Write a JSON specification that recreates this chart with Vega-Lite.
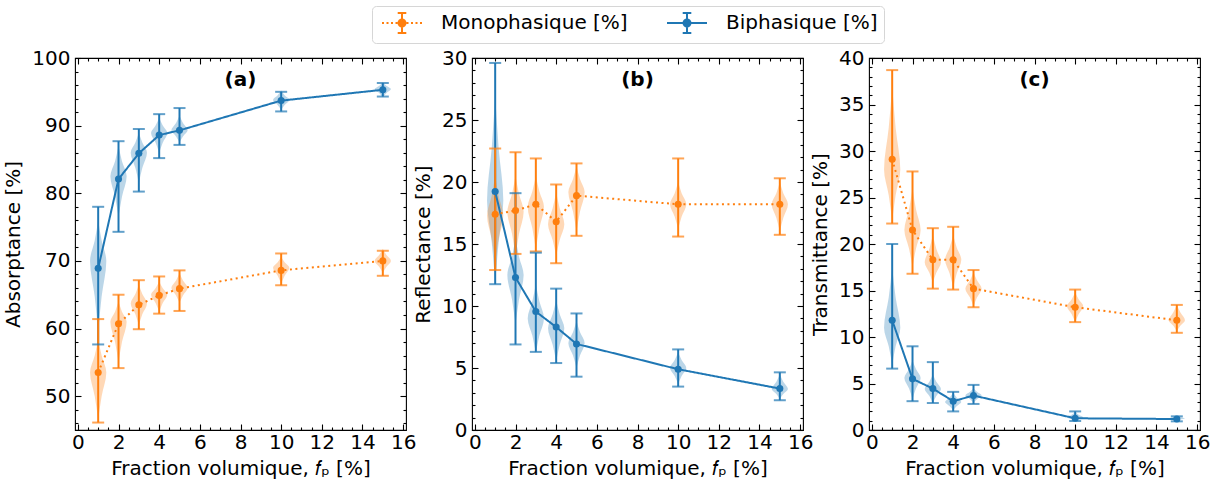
{
"$schema":"https://vega.github.io/schema/vega-lite/v6.json",
"padding":{"left":3,"top":5,"right":5,"bottom":0},
"background":"white",
"config":{"font":"DejaVu Sans","view":{"stroke":"#000","strokeWidth":1.1},
"axis":{"labelFont":"DejaVu Sans","labelFontSize":20,"labelColor":"#000","titleFont":"DejaVu Sans","titleFontSize":20,"titleFontWeight":"normal","titleColor":"#000","tickColor":"#000","tickWidth":1.1,"grid":false,"domain":false,"labelFlush":false,"labelOverlap":false}},
"datasets":{
"pts":[
{"p":"a","s":"B","x":1,"y":68.9,"lo":57.65,"hi":78.0},{"p":"a","s":"B","x":2,"y":82.1,"lo":74.3,"hi":87.7},{"p":"a","s":"B","x":3,"y":85.9,"lo":80.25,"hi":89.5},{"p":"a","s":"B","x":4,"y":88.6,"lo":85.2,"hi":91.7},{"p":"a","s":"B","x":5,"y":89.3,"lo":87.15,"hi":92.6},{"p":"a","s":"B","x":10,"y":93.7,"lo":92.1,"hi":95.0},{"p":"a","s":"B","x":15,"y":95.3,"lo":94.3,"hi":96.3},
{"p":"a","s":"M","x":1,"y":53.5,"lo":46.1,"hi":61.4},{"p":"a","s":"M","x":2,"y":60.7,"lo":54.15,"hi":65.0},{"p":"a","s":"M","x":3,"y":63.5,"lo":59.9,"hi":67.15},{"p":"a","s":"M","x":4,"y":64.9,"lo":62.2,"hi":67.7},{"p":"a","s":"M","x":5,"y":65.9,"lo":62.6,"hi":68.6},{"p":"a","s":"M","x":10,"y":68.6,"lo":66.4,"hi":71.1},{"p":"a","s":"M","x":15,"y":70.0,"lo":67.8,"hi":71.5},
{"p":"b","s":"B","x":1,"y":19.24,"lo":11.76,"hi":29.6},{"p":"b","s":"B","x":2,"y":12.3,"lo":6.9,"hi":19.1},{"p":"b","s":"B","x":3,"y":9.55,"lo":6.3,"hi":14.3},{"p":"b","s":"B","x":4,"y":8.3,"lo":5.4,"hi":11.4},{"p":"b","s":"B","x":5,"y":6.94,"lo":4.3,"hi":9.4},{"p":"b","s":"B","x":10,"y":4.9,"lo":3.5,"hi":6.5},{"p":"b","s":"B","x":15,"y":3.34,"lo":2.4,"hi":4.65},
{"p":"b","s":"M","x":1,"y":17.4,"lo":12.9,"hi":22.7},{"p":"b","s":"M","x":2,"y":17.7,"lo":14.2,"hi":22.4},{"p":"b","s":"M","x":3,"y":18.2,"lo":14.4,"hi":21.9},{"p":"b","s":"M","x":4,"y":16.8,"lo":13.45,"hi":19.8},{"p":"b","s":"M","x":5,"y":18.9,"lo":15.66,"hi":21.5},{"p":"b","s":"M","x":10,"y":18.2,"lo":15.6,"hi":21.9},{"p":"b","s":"M","x":15,"y":18.2,"lo":15.74,"hi":20.3},
{"p":"c","s":"B","x":1,"y":11.8,"lo":6.6,"hi":20.0},{"p":"c","s":"B","x":2,"y":5.5,"lo":3.1,"hi":9.0},{"p":"c","s":"B","x":3,"y":4.45,"lo":2.9,"hi":7.3},{"p":"c","s":"B","x":4,"y":3.1,"lo":2.0,"hi":4.1},{"p":"c","s":"B","x":5,"y":3.7,"lo":2.8,"hi":4.85},{"p":"c","s":"B","x":10,"y":1.26,"lo":0.97,"hi":2.0},{"p":"c","s":"B","x":15,"y":1.18,"lo":0.93,"hi":1.47},
{"p":"c","s":"M","x":1,"y":29.1,"lo":22.2,"hi":38.7},{"p":"c","s":"M","x":2,"y":21.5,"lo":16.8,"hi":27.8},{"p":"c","s":"M","x":3,"y":18.3,"lo":15.2,"hi":21.7},{"p":"c","s":"M","x":4,"y":18.3,"lo":15.1,"hi":21.85},{"p":"c","s":"M","x":5,"y":15.2,"lo":13.2,"hi":17.2},{"p":"c","s":"M","x":10,"y":13.2,"lo":11.6,"hi":15.1},{"p":"c","s":"M","x":15,"y":11.8,"lo":10.45,"hi":13.45}
],
"vio":[
{"p":"a","s":"B","x":1,"y":59.5,"l":1,"r":1},{"p":"a","s":"B","x":1,"y":64.75,"l":0.83,"r":1.17},{"p":"a","s":"B","x":1,"y":70,"l":0.6,"r":1.4},{"p":"a","s":"B","x":1,"y":73,"l":0.83,"r":1.17},{"p":"a","s":"B","x":1,"y":76,"l":1,"r":1},
{"p":"a","s":"B","x":2,"y":76.5,"l":2,"r":2},{"p":"a","s":"B","x":2,"y":79.5,"l":1.83,"r":2.17},{"p":"a","s":"B","x":2,"y":82.5,"l":1.6,"r":2.4},{"p":"a","s":"B","x":2,"y":84.75,"l":1.83,"r":2.17},{"p":"a","s":"B","x":2,"y":87,"l":2,"r":2},
{"p":"a","s":"B","x":3,"y":81.5,"l":3,"r":3},{"p":"a","s":"B","x":3,"y":83.75,"l":2.83,"r":3.17},{"p":"a","s":"B","x":3,"y":86,"l":2.6,"r":3.4},{"p":"a","s":"B","x":3,"y":87.5,"l":2.83,"r":3.17},{"p":"a","s":"B","x":3,"y":89,"l":3,"r":3},
{"p":"a","s":"B","x":4,"y":86,"l":4,"r":4},{"p":"a","s":"B","x":4,"y":87.45,"l":3.83,"r":4.17},{"p":"a","s":"B","x":4,"y":88.9,"l":3.6,"r":4.4},{"p":"a","s":"B","x":4,"y":90.05,"l":3.83,"r":4.17},{"p":"a","s":"B","x":4,"y":91.2,"l":4,"r":4},
{"p":"a","s":"B","x":5,"y":87.5,"l":5,"r":5},{"p":"a","s":"B","x":5,"y":88.4,"l":4.83,"r":5.17},{"p":"a","s":"B","x":5,"y":89.3,"l":4.6,"r":5.4},{"p":"a","s":"B","x":5,"y":90.4,"l":4.83,"r":5.17},{"p":"a","s":"B","x":5,"y":91.5,"l":5,"r":5},
{"p":"a","s":"B","x":10,"y":92.3,"l":10,"r":10},{"p":"a","s":"B","x":10,"y":93.05,"l":9.83,"r":10.17},{"p":"a","s":"B","x":10,"y":93.8,"l":9.6,"r":10.4},{"p":"a","s":"B","x":10,"y":94.5,"l":9.83,"r":10.17},{"p":"a","s":"B","x":10,"y":95.2,"l":10,"r":10},
{"p":"a","s":"B","x":15,"y":94.2,"l":15,"r":15},{"p":"a","s":"B","x":15,"y":94.8,"l":14.83,"r":15.17},{"p":"a","s":"B","x":15,"y":95.4,"l":14.6,"r":15.4},{"p":"a","s":"B","x":15,"y":95.9,"l":14.83,"r":15.17},{"p":"a","s":"B","x":15,"y":96.4,"l":15,"r":15},
{"p":"a","s":"M","x":1,"y":46.5,"l":1,"r":1},{"p":"a","s":"M","x":1,"y":50,"l":0.83,"r":1.17},{"p":"a","s":"M","x":1,"y":53.5,"l":0.6,"r":1.4},{"p":"a","s":"M","x":1,"y":56,"l":0.83,"r":1.17},{"p":"a","s":"M","x":1,"y":58.5,"l":1,"r":1},
{"p":"a","s":"M","x":2,"y":55,"l":2,"r":2},{"p":"a","s":"M","x":2,"y":58,"l":1.83,"r":2.17},{"p":"a","s":"M","x":2,"y":61,"l":1.6,"r":2.4},{"p":"a","s":"M","x":2,"y":62.5,"l":1.83,"r":2.17},{"p":"a","s":"M","x":2,"y":64,"l":2,"r":2},
{"p":"a","s":"M","x":3,"y":60.5,"l":3,"r":3},{"p":"a","s":"M","x":3,"y":62.1,"l":2.83,"r":3.17},{"p":"a","s":"M","x":3,"y":63.7,"l":2.6,"r":3.4},{"p":"a","s":"M","x":3,"y":65.1,"l":2.83,"r":3.17},{"p":"a","s":"M","x":3,"y":66.5,"l":3,"r":3},
{"p":"a","s":"M","x":4,"y":62.5,"l":4,"r":4},{"p":"a","s":"M","x":4,"y":63.75,"l":3.83,"r":4.17},{"p":"a","s":"M","x":4,"y":65,"l":3.6,"r":4.4},{"p":"a","s":"M","x":4,"y":66,"l":3.83,"r":4.17},{"p":"a","s":"M","x":4,"y":67,"l":4,"r":4},
{"p":"a","s":"M","x":5,"y":63.8,"l":5,"r":5},{"p":"a","s":"M","x":5,"y":64.9,"l":4.83,"r":5.17},{"p":"a","s":"M","x":5,"y":66,"l":4.6,"r":5.4},{"p":"a","s":"M","x":5,"y":67.1,"l":4.83,"r":5.17},{"p":"a","s":"M","x":5,"y":68.2,"l":5,"r":5},
{"p":"a","s":"M","x":10,"y":66.6,"l":10,"r":10},{"p":"a","s":"M","x":10,"y":67.8,"l":9.83,"r":10.17},{"p":"a","s":"M","x":10,"y":69,"l":9.6,"r":10.4},{"p":"a","s":"M","x":10,"y":69.8,"l":9.83,"r":10.17},{"p":"a","s":"M","x":10,"y":70.6,"l":10,"r":10},
{"p":"a","s":"M","x":15,"y":68.2,"l":15,"r":15},{"p":"a","s":"M","x":15,"y":69.1,"l":14.83,"r":15.17},{"p":"a","s":"M","x":15,"y":70,"l":14.6,"r":15.4},{"p":"a","s":"M","x":15,"y":70.9,"l":14.83,"r":15.17},{"p":"a","s":"M","x":15,"y":71.8,"l":15,"r":15},
{"p":"b","s":"B","x":1,"y":11.8,"l":1,"r":1},{"p":"b","s":"B","x":1,"y":15.15,"l":0.83,"r":1.17},{"p":"b","s":"B","x":1,"y":18.5,"l":0.6,"r":1.4},{"p":"b","s":"B","x":1,"y":22.75,"l":0.83,"r":1.17},{"p":"b","s":"B","x":1,"y":27,"l":1,"r":1},
{"p":"b","s":"B","x":2,"y":8.5,"l":2,"r":2},{"p":"b","s":"B","x":2,"y":10.5,"l":1.83,"r":2.17},{"p":"b","s":"B","x":2,"y":12.5,"l":1.6,"r":2.4},{"p":"b","s":"B","x":2,"y":14,"l":1.83,"r":2.17},{"p":"b","s":"B","x":2,"y":15.5,"l":2,"r":2},
{"p":"b","s":"B","x":3,"y":6.2,"l":3,"r":3},{"p":"b","s":"B","x":3,"y":7.6,"l":2.83,"r":3.17},{"p":"b","s":"B","x":3,"y":9,"l":2.6,"r":3.4},{"p":"b","s":"B","x":3,"y":10.4,"l":2.83,"r":3.17},{"p":"b","s":"B","x":3,"y":11.8,"l":3,"r":3},
{"p":"b","s":"B","x":4,"y":5.5,"l":4,"r":4},{"p":"b","s":"B","x":4,"y":6.85,"l":3.83,"r":4.17},{"p":"b","s":"B","x":4,"y":8.2,"l":3.6,"r":4.4},{"p":"b","s":"B","x":4,"y":9.35,"l":3.83,"r":4.17},{"p":"b","s":"B","x":4,"y":10.5,"l":4,"r":4},
{"p":"b","s":"B","x":5,"y":5,"l":5,"r":5},{"p":"b","s":"B","x":5,"y":6,"l":4.83,"r":5.17},{"p":"b","s":"B","x":5,"y":7,"l":4.6,"r":5.4},{"p":"b","s":"B","x":5,"y":7.9,"l":4.83,"r":5.17},{"p":"b","s":"B","x":5,"y":8.8,"l":5,"r":5},
{"p":"b","s":"B","x":10,"y":3.7,"l":10,"r":10},{"p":"b","s":"B","x":10,"y":4.35,"l":9.83,"r":10.17},{"p":"b","s":"B","x":10,"y":5,"l":9.6,"r":10.4},{"p":"b","s":"B","x":10,"y":5.65,"l":9.83,"r":10.17},{"p":"b","s":"B","x":10,"y":6.3,"l":10,"r":10},
{"p":"b","s":"B","x":15,"y":2.5,"l":15,"r":15},{"p":"b","s":"B","x":15,"y":2.9,"l":14.83,"r":15.17},{"p":"b","s":"B","x":15,"y":3.3,"l":14.6,"r":15.4},{"p":"b","s":"B","x":15,"y":3.9,"l":14.83,"r":15.17},{"p":"b","s":"B","x":15,"y":4.5,"l":15,"r":15},
{"p":"b","s":"M","x":1,"y":13.5,"l":1,"r":1},{"p":"b","s":"M","x":1,"y":15.4,"l":0.83,"r":1.17},{"p":"b","s":"M","x":1,"y":17.3,"l":0.6,"r":1.4},{"p":"b","s":"M","x":1,"y":18.9,"l":0.83,"r":1.17},{"p":"b","s":"M","x":1,"y":20.5,"l":1,"r":1},
{"p":"b","s":"M","x":2,"y":14,"l":2,"r":2},{"p":"b","s":"M","x":2,"y":15.8,"l":1.83,"r":2.17},{"p":"b","s":"M","x":2,"y":17.6,"l":1.6,"r":2.4},{"p":"b","s":"M","x":2,"y":19.05,"l":1.83,"r":2.17},{"p":"b","s":"M","x":2,"y":20.5,"l":2,"r":2},
{"p":"b","s":"M","x":3,"y":14.5,"l":3,"r":3},{"p":"b","s":"M","x":3,"y":16.25,"l":2.83,"r":3.17},{"p":"b","s":"M","x":3,"y":18,"l":2.6,"r":3.4},{"p":"b","s":"M","x":3,"y":19.25,"l":2.83,"r":3.17},{"p":"b","s":"M","x":3,"y":20.5,"l":3,"r":3},
{"p":"b","s":"M","x":4,"y":14,"l":4,"r":4},{"p":"b","s":"M","x":4,"y":15.3,"l":3.83,"r":4.17},{"p":"b","s":"M","x":4,"y":16.6,"l":3.6,"r":4.4},{"p":"b","s":"M","x":4,"y":17.9,"l":3.83,"r":4.17},{"p":"b","s":"M","x":4,"y":19.2,"l":4,"r":4},
{"p":"b","s":"M","x":5,"y":16,"l":5,"r":5},{"p":"b","s":"M","x":5,"y":17.6,"l":4.83,"r":5.17},{"p":"b","s":"M","x":5,"y":19.2,"l":4.6,"r":5.4},{"p":"b","s":"M","x":5,"y":20.25,"l":4.83,"r":5.17},{"p":"b","s":"M","x":5,"y":21.3,"l":5,"r":5},
{"p":"b","s":"M","x":10,"y":16.2,"l":10,"r":10},{"p":"b","s":"M","x":10,"y":17.2,"l":9.83,"r":10.17},{"p":"b","s":"M","x":10,"y":18.2,"l":9.6,"r":10.4},{"p":"b","s":"M","x":10,"y":19.1,"l":9.83,"r":10.17},{"p":"b","s":"M","x":10,"y":20,"l":10,"r":10},
{"p":"b","s":"M","x":15,"y":16,"l":15,"r":15},{"p":"b","s":"M","x":15,"y":17.1,"l":14.83,"r":15.17},{"p":"b","s":"M","x":15,"y":18.2,"l":14.6,"r":15.4},{"p":"b","s":"M","x":15,"y":19.1,"l":14.83,"r":15.17},{"p":"b","s":"M","x":15,"y":20,"l":15,"r":15},
{"p":"c","s":"M","x":1,"y":22.5,"l":1,"r":1},{"p":"c","s":"M","x":1,"y":25.25,"l":0.83,"r":1.17},{"p":"c","s":"M","x":1,"y":28,"l":0.6,"r":1.4},{"p":"c","s":"M","x":1,"y":32.5,"l":0.83,"r":1.17},{"p":"c","s":"M","x":1,"y":37,"l":1,"r":1},
{"p":"c","s":"M","x":2,"y":17.5,"l":2,"r":2},{"p":"c","s":"M","x":2,"y":19.5,"l":1.83,"r":2.17},{"p":"c","s":"M","x":2,"y":21.5,"l":1.6,"r":2.4},{"p":"c","s":"M","x":2,"y":23.75,"l":1.83,"r":2.17},{"p":"c","s":"M","x":2,"y":26,"l":2,"r":2},
{"p":"c","s":"M","x":3,"y":15.8,"l":3,"r":3},{"p":"c","s":"M","x":3,"y":16.9,"l":2.83,"r":3.17},{"p":"c","s":"M","x":3,"y":18,"l":2.6,"r":3.4},{"p":"c","s":"M","x":3,"y":19.5,"l":2.83,"r":3.17},{"p":"c","s":"M","x":3,"y":21,"l":3,"r":3},
{"p":"c","s":"M","x":4,"y":15.3,"l":4,"r":4},{"p":"c","s":"M","x":4,"y":16.8,"l":3.83,"r":4.17},{"p":"c","s":"M","x":4,"y":18.3,"l":3.6,"r":4.4},{"p":"c","s":"M","x":4,"y":19.65,"l":3.83,"r":4.17},{"p":"c","s":"M","x":4,"y":21,"l":4,"r":4},
{"p":"c","s":"M","x":5,"y":13.3,"l":5,"r":5},{"p":"c","s":"M","x":5,"y":14.25,"l":4.83,"r":5.17},{"p":"c","s":"M","x":5,"y":15.2,"l":4.6,"r":5.4},{"p":"c","s":"M","x":5,"y":16.1,"l":4.83,"r":5.17},{"p":"c","s":"M","x":5,"y":17,"l":5,"r":5},
{"p":"c","s":"M","x":10,"y":11.6,"l":10,"r":10},{"p":"c","s":"M","x":10,"y":12.45,"l":9.83,"r":10.17},{"p":"c","s":"M","x":10,"y":13.3,"l":9.6,"r":10.4},{"p":"c","s":"M","x":10,"y":14.05,"l":9.83,"r":10.17},{"p":"c","s":"M","x":10,"y":14.8,"l":10,"r":10},
{"p":"c","s":"M","x":15,"y":10.6,"l":15,"r":15},{"p":"c","s":"M","x":15,"y":11.2,"l":14.83,"r":15.17},{"p":"c","s":"M","x":15,"y":11.8,"l":14.6,"r":15.4},{"p":"c","s":"M","x":15,"y":12.65,"l":14.83,"r":15.17},{"p":"c","s":"M","x":15,"y":13.5,"l":15,"r":15},
{"p":"c","s":"B","x":1,"y":7,"l":1,"r":1},{"p":"c","s":"B","x":1,"y":9,"l":0.83,"r":1.17},{"p":"c","s":"B","x":1,"y":11,"l":0.6,"r":1.4},{"p":"c","s":"B","x":1,"y":14.25,"l":0.83,"r":1.17},{"p":"c","s":"B","x":1,"y":17.5,"l":1,"r":1},
{"p":"c","s":"B","x":2,"y":3.3,"l":2,"r":2},{"p":"c","s":"B","x":2,"y":4.45,"l":1.83,"r":2.17},{"p":"c","s":"B","x":2,"y":5.6,"l":1.6,"r":2.4},{"p":"c","s":"B","x":2,"y":6.55,"l":1.83,"r":2.17},{"p":"c","s":"B","x":2,"y":7.5,"l":2,"r":2},
{"p":"c","s":"B","x":3,"y":2.9,"l":3,"r":3},{"p":"c","s":"B","x":3,"y":3.65,"l":2.83,"r":3.17},{"p":"c","s":"B","x":3,"y":4.4,"l":2.6,"r":3.4},{"p":"c","s":"B","x":3,"y":5.2,"l":2.83,"r":3.17},{"p":"c","s":"B","x":3,"y":6,"l":3,"r":3},
{"p":"c","s":"B","x":4,"y":2.1,"l":4,"r":4},{"p":"c","s":"B","x":4,"y":2.55,"l":3.83,"r":4.17},{"p":"c","s":"B","x":4,"y":3,"l":3.6,"r":4.4},{"p":"c","s":"B","x":4,"y":3.5,"l":3.83,"r":4.17},{"p":"c","s":"B","x":4,"y":4,"l":4,"r":4},
{"p":"c","s":"B","x":5,"y":2.9,"l":5,"r":5},{"p":"c","s":"B","x":5,"y":3.3,"l":4.83,"r":5.17},{"p":"c","s":"B","x":5,"y":3.7,"l":4.6,"r":5.4},{"p":"c","s":"B","x":5,"y":4.1,"l":4.83,"r":5.17},{"p":"c","s":"B","x":5,"y":4.5,"l":5,"r":5},
{"p":"c","s":"B","x":10,"y":1,"l":10,"r":10},{"p":"c","s":"B","x":10,"y":1.18,"l":9.83,"r":10.17},{"p":"c","s":"B","x":10,"y":1.35,"l":9.6,"r":10.4},{"p":"c","s":"B","x":10,"y":1.63,"l":9.83,"r":10.17},{"p":"c","s":"B","x":10,"y":1.9,"l":10,"r":10},
{"p":"c","s":"B","x":15,"y":1,"l":15,"r":15},{"p":"c","s":"B","x":15,"y":1.13,"l":14.83,"r":15.17},{"p":"c","s":"B","x":15,"y":1.25,"l":14.6,"r":15.4},{"p":"c","s":"B","x":15,"y":1.38,"l":14.83,"r":15.17},{"p":"c","s":"B","x":15,"y":1.5,"l":15,"r":15}
]},
"hconcat":[
{"width":331,"height":372,"resolve":{"axis":{"x":"independent","y":"independent"}},
"layer":[
{"data":{"name":"vio"},"transform":[{"filter":"datum.p=='a'"}],"mark":{"type":"area","orient":"horizontal","interpolate":"monotone","opacity":0.3},
"encoding":{"y":{"field":"y","type":"quantitative","scale":{"domain":[45,100],"nice":false,"zero":false},"axis":{"orient":"left","title":"Absorptance [%]","values":[50,60,70,80,90,100],"ticks":false,"labelPadding":5,"titlePadding":8}},
"x":{"field":"l","type":"quantitative","stack":null,"scale":{"domain":[-0.14,16.14],"nice":false,"zero":false},"axis":{"orient":"bottom","title":"Fraction volumique, 𝑓ₚ [%]","values":[0,2,4,6,8,10,12,14,16],"ticks":false,"labelPadding":2,"titlePadding":6}},
"x2":{"field":"r"},
"color":{"field":"s","type":"nominal","scale":{"domain":["B","M"],"range":["#1f77b4","#ff7f0e"]},"legend":null},
"detail":[{"field":"s","type":"nominal"},{"field":"x","type":"nominal"}]}},
{"data":{"name":"pts"},"transform":[{"filter":"datum.p=='a'"}],"mark":{"type":"rule","strokeWidth":2},
"encoding":{"x":{"field":"x","type":"quantitative","scale":{"domain":[-0.14,16.14],"nice":false,"zero":false},"axis":{"orient":"bottom","values":[0,2,4,6,8,10,12,14,16],"labels":false,"title":null,"tickSize":6,"offset":-6}},
"y":{"field":"lo","type":"quantitative","scale":{"domain":[45,100],"nice":false,"zero":false},"axis":{"orient":"left","values":[50,60,70,80,90,100],"labels":false,"title":null,"tickSize":6,"offset":-6}},
"y2":{"field":"hi"},
"color":{"field":"s","type":"nominal","scale":{"domain":["B","M"],"range":["#1f77b4","#ff7f0e"]},"legend":null}}},
{"data":{"name":"pts"},"transform":[{"filter":"datum.p=='a'"}],"mark":{"type":"tick","orient":"horizontal","size":12,"thickness":2},
"encoding":{"x":{"field":"x","type":"quantitative","scale":{"domain":[-0.14,16.14],"nice":false,"zero":false},"axis":{"orient":"bottom","values":[0.5,1,1.5,2.5,3,3.5,4.5,5,5.5,6.5,7,7.5,8.5,9,9.5,10.5,11,11.5,12.5,13,13.5,14.5,15,15.5],"labels":false,"title":null,"tickSize":3,"offset":-3}},
"y":{"field":"lo","type":"quantitative","scale":{"domain":[45,100],"nice":false,"zero":false},"axis":{"orient":"left","values":[46,48,52,54,56,58,62,64,66,68,72,74,76,78,82,84,86,88,92,94,96,98],"labels":false,"title":null,"tickSize":3,"offset":-3}},
"color":{"field":"s","type":"nominal","scale":{"domain":["B","M"],"range":["#1f77b4","#ff7f0e"]},"legend":null}}},
{"data":{"name":"pts"},"transform":[{"filter":"datum.p=='a'"}],"mark":{"type":"tick","orient":"horizontal","size":12,"thickness":2},
"encoding":{"x":{"field":"x","type":"quantitative","scale":{"domain":[-0.14,16.14],"nice":false,"zero":false},"axis":{"orient":"top","values":[0,2,4,6,8,10,12,14,16],"labels":false,"title":null,"tickSize":6,"offset":-6}},
"y":{"field":"hi","type":"quantitative","scale":{"domain":[45,100],"nice":false,"zero":false},"axis":{"orient":"right","values":[50,60,70,80,90,100],"labels":false,"title":null,"tickSize":6,"offset":-6}},
"color":{"field":"s","type":"nominal","scale":{"domain":["B","M"],"range":["#1f77b4","#ff7f0e"]},"legend":null}}},
{"data":{"name":"pts"},"transform":[{"filter":"datum.p=='a'"}],"mark":{"type":"line","strokeWidth":2},
"encoding":{"x":{"field":"x","type":"quantitative","scale":{"domain":[-0.14,16.14],"nice":false,"zero":false},"axis":{"orient":"top","values":[0.5,1,1.5,2.5,3,3.5,4.5,5,5.5,6.5,7,7.5,8.5,9,9.5,10.5,11,11.5,12.5,13,13.5,14.5,15,15.5],"labels":false,"title":null,"tickSize":3,"offset":-3}},
"y":{"field":"y","type":"quantitative","scale":{"domain":[45,100],"nice":false,"zero":false},"axis":{"orient":"right","values":[46,48,52,54,56,58,62,64,66,68,72,74,76,78,82,84,86,88,92,94,96,98],"labels":false,"title":null,"tickSize":3,"offset":-3}},
"color":{"field":"s","type":"nominal","scale":{"domain":["B","M"],"range":["#1f77b4","#ff7f0e"]},"legend":null},
"strokeDash":{"field":"s","type":"nominal","scale":{"domain":["B","M"],"range":[[1,0],[2,3.5]]},"legend":null}}},
{"data":{"name":"pts"},"transform":[{"filter":"datum.p=='a'"}],"mark":{"type":"circle","size":50,"opacity":1},
"encoding":{"x":{"field":"x","type":"quantitative","scale":{"domain":[-0.14,16.14],"nice":false,"zero":false},"axis":null},
"y":{"field":"y","type":"quantitative","scale":{"domain":[45,100],"nice":false,"zero":false},"axis":null},
"color":{"field":"s","type":"nominal","scale":{"domain":["B","M"],"range":["#1f77b4","#ff7f0e"]},"legend":null}}},
{"data":{"values":[{"t":"(a)"}]},"mark":{"type":"text","fontWeight":"bold","fontSize":20,"align":"center","baseline":"middle","color":"#000"},
"encoding":{"x":{"datum":8,"type":"quantitative","scale":{"domain":[-0.14,16.14],"nice":false,"zero":false},"axis":null},"y":{"datum":96.7,"type":"quantitative","scale":{"domain":[45,100],"nice":false,"zero":false},"axis":null},"text":{"field":"t"}}},
{"data":{"name":"pts"},"transform":[{"filter":"datum.p=='a'"}],"mark":{"type":"point","filled":true,"opacity":0,"size":400},
"encoding":{"x":{"field":"x","type":"quantitative","scale":{"domain":[-0.14,16.14],"nice":false,"zero":false},"axis":null},
"y":{"field":"y","type":"quantitative","scale":{"domain":[45,100],"nice":false,"zero":false},"axis":null},
"fill":{"field":"s","type":"nominal","scale":{"domain":["M","B"],"range":["#ff7f0e","#1f77b4"]},"legend":{"title":null,"orient":"none","legendX":297,"legendY":-52,"direction":"horizontal","labelExpr":"datum.value=='M'?'Monophasique [%]':'Biphasique [%]'","symbolSize":400,"symbolStrokeWidth":2,"symbolOpacity":1,"symbolOffset":13,"labelOffset":28,"columnPadding":35,"padding":6,"strokeColor":"#d6d6d6","cornerRadius":4,"fillColor":"#ffffff","labelFontSize":20,"labelFont":"DejaVu Sans","labelColor":"#000","labelLimit":400}},
"stroke":{"field":"s","type":"nominal","scale":{"domain":["M","B"],"range":["#ff7f0e","#1f77b4"]},"legend":{"title":null,"orient":"none","legendX":297,"legendY":-52,"direction":"horizontal","labelExpr":"datum.value=='M'?'Monophasique [%]':'Biphasique [%]'","symbolSize":400,"symbolStrokeWidth":2,"symbolOpacity":1,"symbolOffset":13,"labelOffset":28,"columnPadding":35,"padding":6,"strokeColor":"#d6d6d6","cornerRadius":4,"fillColor":"#ffffff","labelFontSize":20,"labelFont":"DejaVu Sans","labelColor":"#000","labelLimit":400}},
"shape":{"field":"s","type":"nominal","scale":{"domain":["M","B"],"range":["M-2,0h0.2M-1.55,0h0.2M-1.1,0h0.2M-0.65,0h0.2M0.45,0h0.2M0.9,0h0.2M1.35,0h0.2M1.8,0h0.2M0,-1V1M-0.43,-1H0.43M-0.43,1H0.43M0.35,0A0.35,0.35,0,1,1,-0.35,0A0.35,0.35,0,1,1,0.35,0Z","M-2,0H2M0,-1V1M-0.43,-1H0.43M-0.43,1H0.43M0.35,0A0.35,0.35,0,1,1,-0.35,0A0.35,0.35,0,1,1,0.35,0Z"]},"legend":{"title":null,"orient":"none","legendX":297,"legendY":-52,"direction":"horizontal","labelExpr":"datum.value=='M'?'Monophasique [%]':'Biphasique [%]'","symbolSize":400,"symbolStrokeWidth":2,"symbolOpacity":1,"symbolOffset":13,"labelOffset":28,"columnPadding":35,"padding":6,"strokeColor":"#d6d6d6","cornerRadius":4,"fillColor":"#ffffff","labelFontSize":20,"labelFont":"DejaVu Sans","labelColor":"#000","labelLimit":400}}}}
]},
{"width":331,"height":372,"resolve":{"axis":{"x":"independent","y":"independent"}},
"layer":[
{"data":{"name":"vio"},"transform":[{"filter":"datum.p=='b'"}],"mark":{"type":"area","orient":"horizontal","interpolate":"monotone","opacity":0.3},
"encoding":{"y":{"field":"y","type":"quantitative","scale":{"domain":[0,30],"nice":false,"zero":false},"axis":{"orient":"left","title":"Reflectance [%]","values":[0,5,10,15,20,25,30],"ticks":false,"labelPadding":5,"titlePadding":8}},
"x":{"field":"l","type":"quantitative","stack":null,"scale":{"domain":[-0.14,16.14],"nice":false,"zero":false},"axis":{"orient":"bottom","title":"Fraction volumique, 𝑓ₚ [%]","values":[0,2,4,6,8,10,12,14,16],"ticks":false,"labelPadding":2,"titlePadding":6}},
"x2":{"field":"r"},
"color":{"field":"s","type":"nominal","scale":{"domain":["B","M"],"range":["#1f77b4","#ff7f0e"]},"legend":null},
"detail":[{"field":"s","type":"nominal"},{"field":"x","type":"nominal"}]}},
{"data":{"name":"pts"},"transform":[{"filter":"datum.p=='b'"}],"mark":{"type":"rule","strokeWidth":2},
"encoding":{"x":{"field":"x","type":"quantitative","scale":{"domain":[-0.14,16.14],"nice":false,"zero":false},"axis":{"orient":"bottom","values":[0,2,4,6,8,10,12,14,16],"labels":false,"title":null,"tickSize":6,"offset":-6}},
"y":{"field":"lo","type":"quantitative","scale":{"domain":[0,30],"nice":false,"zero":false},"axis":{"orient":"left","values":[0,5,10,15,20,25,30],"labels":false,"title":null,"tickSize":6,"offset":-6}},
"y2":{"field":"hi"},
"color":{"field":"s","type":"nominal","scale":{"domain":["B","M"],"range":["#1f77b4","#ff7f0e"]},"legend":null}}},
{"data":{"name":"pts"},"transform":[{"filter":"datum.p=='b'"}],"mark":{"type":"tick","orient":"horizontal","size":12,"thickness":2},
"encoding":{"x":{"field":"x","type":"quantitative","scale":{"domain":[-0.14,16.14],"nice":false,"zero":false},"axis":{"orient":"bottom","values":[0.5,1,1.5,2.5,3,3.5,4.5,5,5.5,6.5,7,7.5,8.5,9,9.5,10.5,11,11.5,12.5,13,13.5,14.5,15,15.5],"labels":false,"title":null,"tickSize":3,"offset":-3}},
"y":{"field":"lo","type":"quantitative","scale":{"domain":[0,30],"nice":false,"zero":false},"axis":{"orient":"left","values":[1,2,3,4,6,7,8,9,11,12,13,14,16,17,18,19,21,22,23,24,26,27,28,29],"labels":false,"title":null,"tickSize":3,"offset":-3}},
"color":{"field":"s","type":"nominal","scale":{"domain":["B","M"],"range":["#1f77b4","#ff7f0e"]},"legend":null}}},
{"data":{"name":"pts"},"transform":[{"filter":"datum.p=='b'"}],"mark":{"type":"tick","orient":"horizontal","size":12,"thickness":2},
"encoding":{"x":{"field":"x","type":"quantitative","scale":{"domain":[-0.14,16.14],"nice":false,"zero":false},"axis":{"orient":"top","values":[0,2,4,6,8,10,12,14,16],"labels":false,"title":null,"tickSize":6,"offset":-6}},
"y":{"field":"hi","type":"quantitative","scale":{"domain":[0,30],"nice":false,"zero":false},"axis":{"orient":"right","values":[0,5,10,15,20,25,30],"labels":false,"title":null,"tickSize":6,"offset":-6}},
"color":{"field":"s","type":"nominal","scale":{"domain":["B","M"],"range":["#1f77b4","#ff7f0e"]},"legend":null}}},
{"data":{"name":"pts"},"transform":[{"filter":"datum.p=='b'"}],"mark":{"type":"line","strokeWidth":2},
"encoding":{"x":{"field":"x","type":"quantitative","scale":{"domain":[-0.14,16.14],"nice":false,"zero":false},"axis":{"orient":"top","values":[0.5,1,1.5,2.5,3,3.5,4.5,5,5.5,6.5,7,7.5,8.5,9,9.5,10.5,11,11.5,12.5,13,13.5,14.5,15,15.5],"labels":false,"title":null,"tickSize":3,"offset":-3}},
"y":{"field":"y","type":"quantitative","scale":{"domain":[0,30],"nice":false,"zero":false},"axis":{"orient":"right","values":[1,2,3,4,6,7,8,9,11,12,13,14,16,17,18,19,21,22,23,24,26,27,28,29],"labels":false,"title":null,"tickSize":3,"offset":-3}},
"color":{"field":"s","type":"nominal","scale":{"domain":["B","M"],"range":["#1f77b4","#ff7f0e"]},"legend":null},
"strokeDash":{"field":"s","type":"nominal","scale":{"domain":["B","M"],"range":[[1,0],[2,3.5]]},"legend":null}}},
{"data":{"name":"pts"},"transform":[{"filter":"datum.p=='b'"}],"mark":{"type":"circle","size":50,"opacity":1},
"encoding":{"x":{"field":"x","type":"quantitative","scale":{"domain":[-0.14,16.14],"nice":false,"zero":false},"axis":null},
"y":{"field":"y","type":"quantitative","scale":{"domain":[0,30],"nice":false,"zero":false},"axis":null},
"color":{"field":"s","type":"nominal","scale":{"domain":["B","M"],"range":["#1f77b4","#ff7f0e"]},"legend":null}}},
{"data":{"values":[{"t":"(b)"}]},"mark":{"type":"text","fontWeight":"bold","fontSize":20,"align":"center","baseline":"middle","color":"#000"},
"encoding":{"x":{"datum":8,"type":"quantitative","scale":{"domain":[-0.14,16.14],"nice":false,"zero":false},"axis":null},"y":{"datum":28.2,"type":"quantitative","scale":{"domain":[0,30],"nice":false,"zero":false},"axis":null},"text":{"field":"t"}}}
]},
{"width":331,"height":372,"resolve":{"axis":{"x":"independent","y":"independent"}},
"layer":[
{"data":{"name":"vio"},"transform":[{"filter":"datum.p=='c'"}],"mark":{"type":"area","orient":"horizontal","interpolate":"monotone","opacity":0.3},
"encoding":{"y":{"field":"y","type":"quantitative","scale":{"domain":[0,40],"nice":false,"zero":false},"axis":{"orient":"left","title":"Transmittance [%]","values":[0,5,10,15,20,25,30,35,40],"ticks":false,"labelPadding":5,"titlePadding":8}},
"x":{"field":"l","type":"quantitative","stack":null,"scale":{"domain":[-0.14,16.14],"nice":false,"zero":false},"axis":{"orient":"bottom","title":"Fraction volumique, 𝑓ₚ [%]","values":[0,2,4,6,8,10,12,14,16],"ticks":false,"labelPadding":2,"titlePadding":6}},
"x2":{"field":"r"},
"color":{"field":"s","type":"nominal","scale":{"domain":["B","M"],"range":["#1f77b4","#ff7f0e"]},"legend":null},
"detail":[{"field":"s","type":"nominal"},{"field":"x","type":"nominal"}]}},
{"data":{"name":"pts"},"transform":[{"filter":"datum.p=='c'"}],"mark":{"type":"rule","strokeWidth":2},
"encoding":{"x":{"field":"x","type":"quantitative","scale":{"domain":[-0.14,16.14],"nice":false,"zero":false},"axis":{"orient":"bottom","values":[0,2,4,6,8,10,12,14,16],"labels":false,"title":null,"tickSize":6,"offset":-6}},
"y":{"field":"lo","type":"quantitative","scale":{"domain":[0,40],"nice":false,"zero":false},"axis":{"orient":"left","values":[0,5,10,15,20,25,30,35,40],"labels":false,"title":null,"tickSize":6,"offset":-6}},
"y2":{"field":"hi"},
"color":{"field":"s","type":"nominal","scale":{"domain":["B","M"],"range":["#1f77b4","#ff7f0e"]},"legend":null}}},
{"data":{"name":"pts"},"transform":[{"filter":"datum.p=='c'"}],"mark":{"type":"tick","orient":"horizontal","size":12,"thickness":2},
"encoding":{"x":{"field":"x","type":"quantitative","scale":{"domain":[-0.14,16.14],"nice":false,"zero":false},"axis":{"orient":"bottom","values":[0.5,1,1.5,2.5,3,3.5,4.5,5,5.5,6.5,7,7.5,8.5,9,9.5,10.5,11,11.5,12.5,13,13.5,14.5,15,15.5],"labels":false,"title":null,"tickSize":3,"offset":-3}},
"y":{"field":"lo","type":"quantitative","scale":{"domain":[0,40],"nice":false,"zero":false},"axis":{"orient":"left","values":[1,2,3,4,6,7,8,9,11,12,13,14,16,17,18,19,21,22,23,24,26,27,28,29,31,32,33,34,36,37,38,39],"labels":false,"title":null,"tickSize":3,"offset":-3}},
"color":{"field":"s","type":"nominal","scale":{"domain":["B","M"],"range":["#1f77b4","#ff7f0e"]},"legend":null}}},
{"data":{"name":"pts"},"transform":[{"filter":"datum.p=='c'"}],"mark":{"type":"tick","orient":"horizontal","size":12,"thickness":2},
"encoding":{"x":{"field":"x","type":"quantitative","scale":{"domain":[-0.14,16.14],"nice":false,"zero":false},"axis":{"orient":"top","values":[0,2,4,6,8,10,12,14,16],"labels":false,"title":null,"tickSize":6,"offset":-6}},
"y":{"field":"hi","type":"quantitative","scale":{"domain":[0,40],"nice":false,"zero":false},"axis":{"orient":"right","values":[0,5,10,15,20,25,30,35,40],"labels":false,"title":null,"tickSize":6,"offset":-6}},
"color":{"field":"s","type":"nominal","scale":{"domain":["B","M"],"range":["#1f77b4","#ff7f0e"]},"legend":null}}},
{"data":{"name":"pts"},"transform":[{"filter":"datum.p=='c'"}],"mark":{"type":"line","strokeWidth":2},
"encoding":{"x":{"field":"x","type":"quantitative","scale":{"domain":[-0.14,16.14],"nice":false,"zero":false},"axis":{"orient":"top","values":[0.5,1,1.5,2.5,3,3.5,4.5,5,5.5,6.5,7,7.5,8.5,9,9.5,10.5,11,11.5,12.5,13,13.5,14.5,15,15.5],"labels":false,"title":null,"tickSize":3,"offset":-3}},
"y":{"field":"y","type":"quantitative","scale":{"domain":[0,40],"nice":false,"zero":false},"axis":{"orient":"right","values":[1,2,3,4,6,7,8,9,11,12,13,14,16,17,18,19,21,22,23,24,26,27,28,29,31,32,33,34,36,37,38,39],"labels":false,"title":null,"tickSize":3,"offset":-3}},
"color":{"field":"s","type":"nominal","scale":{"domain":["B","M"],"range":["#1f77b4","#ff7f0e"]},"legend":null},
"strokeDash":{"field":"s","type":"nominal","scale":{"domain":["B","M"],"range":[[1,0],[2,3.5]]},"legend":null}}},
{"data":{"name":"pts"},"transform":[{"filter":"datum.p=='c'"}],"mark":{"type":"circle","size":50,"opacity":1},
"encoding":{"x":{"field":"x","type":"quantitative","scale":{"domain":[-0.14,16.14],"nice":false,"zero":false},"axis":null},
"y":{"field":"y","type":"quantitative","scale":{"domain":[0,40],"nice":false,"zero":false},"axis":null},
"color":{"field":"s","type":"nominal","scale":{"domain":["B","M"],"range":["#1f77b4","#ff7f0e"]},"legend":null}}},
{"data":{"values":[{"t":"(c)"}]},"mark":{"type":"text","fontWeight":"bold","fontSize":20,"align":"center","baseline":"middle","color":"#000"},
"encoding":{"x":{"datum":8,"type":"quantitative","scale":{"domain":[-0.14,16.14],"nice":false,"zero":false},"axis":null},"y":{"datum":37.6,"type":"quantitative","scale":{"domain":[0,40],"nice":false,"zero":false},"axis":null},"text":{"field":"t"}}}
]}
],
"spacing":66,
"bounds":"flush"
}
